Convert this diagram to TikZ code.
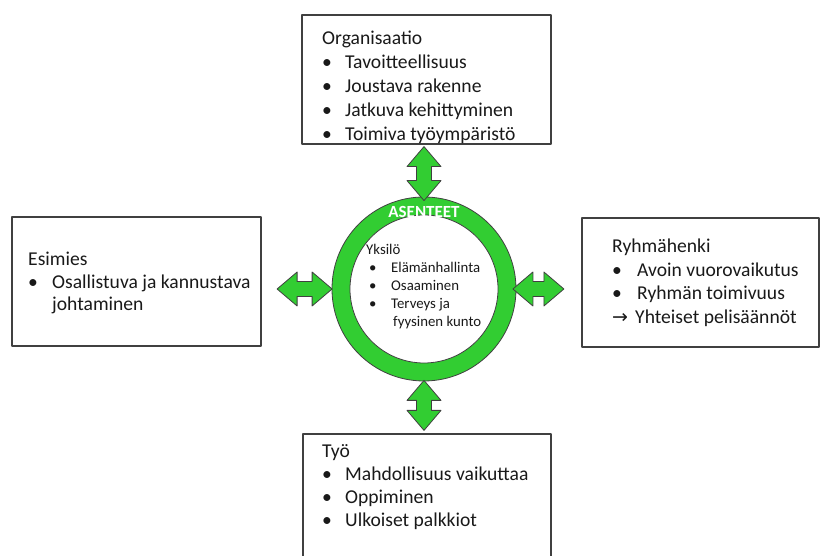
\documentclass[tikz,border=0pt]{standalone}
\usepackage{fontspec}
\setmainfont{Carlito}
\newfontfamily\symfont{DejaVu Sans}
\usetikzlibrary{calc}
\definecolor{ringgreen}{RGB}{50,205,50}
\definecolor{edgegray}{RGB}{64,64,64}
\definecolor{txtgray}{RGB}{25,25,25}
\newcommand{\bul}[1][24pt]{\makebox[#1][l]{\textbullet}}
\begin{document}
\begin{tikzpicture}[x=1pt, y=1pt, line join=round,
		box/.style={draw=edgegray, line width=1.2pt, minimum width=#1, minimum height=129pt, inner sep=0pt},
		list/.style={anchor=base west, align=left, inner sep=0pt, text=txtgray, font=\fontsize{19.6}{#1}\selectfont},
		arrowfill/.style={fill=ringgreen, draw=edgegray, line width=0.8pt},
		pics/dblarr/.style={code={
			\draw[arrowfill] (-#1/2,0) -- ++(20,17) -- ++(0,-9.5) -- (#1/2-20,7.5) -- ++(0,9.5) -- (#1/2,0)
				-- ++(-20,-17) -- ++(0,9.5) -- (-#1/2+20,-7.5) -- ++(0,-9.5) -- cycle;}}]
	\useasboundingbox (0,0) rectangle (820,556);
	\node[box=249pt] (org) at (426.5,476.5) {};
	\node[box=249pt] (esim) at (136.5,274.5) {};
	\node[box=237pt] (ryhma) at (700.5,273.5) {};
	\node[box=248pt] (tyo) at (427,57.5) {};
	\node[list=24pt] (orgtxt) at (322,415) {Organisaatio\\ \bul[23pt]Tavoitteellisuus\\ \bul[23pt]Joustava rakenne\\ \bul[23pt]Jatkuva kehittyminen\\ \bul[23pt]Toimiva työympäristö};
	\node[list=22.5pt] (esimtxt) at (28,245) {Esimies\\ \bul Osallistuva ja kannustava\\ \hspace*{24pt}johtaminen};
	\node[list=23.5pt] (ryhmatxt) at (612,232.5) {Ryhmähenki\\ \bul[25pt]Avoin vuorovaikutus\\ \bul[25pt]Ryhmän toimivuus\\ \makebox[23pt][l]{\symfont\fontsize{19}{19}\selectfont →}Yhteiset pelisäännöt};
	\node[list=23pt] (tyotxt) at (322,29) {Työ\\ \bul[23pt]Mahdollisuus vaikuttaa\\ \bul[23pt]Oppiminen\\ \bul[23pt]Ulkoiset palkkiot};
	\node[circle, draw=edgegray, line width=0.8pt, fill=ringgreen, minimum size=184pt, inner sep=0pt] (ring) at (424,267) {};
	\node[circle, draw=edgegray, line width=0.8pt, fill=white, minimum size=148pt, inner sep=0pt] (core) at (ring.center) {};
	\node[anchor=base west, align=left, inner sep=0pt, text=txtgray, font=\fontsize{14.8}{18}\selectfont] (coretxt) at (366,229)
		{Yksilö\\ \hspace*{3pt}\bul[22pt]Elämänhallinta\\ \hspace*{3pt}\bul[22pt]Osaaminen\\ \hspace*{3pt}\bul[22pt]Terveys ja\\ \hspace*{27pt}fyysinen kunto};
	\pic[rotate=90] (atop) at ($(ring.north)+(0,23)$) {dblarr=54};
	\pic[rotate=90] (abot) at ($(ring.south)+(0,-24)$) {dblarr=50};
	\pic (aleft) at ($(ring.west)+(-27,0)$) {dblarr=55};
	\pic (aright) at ($(ring.east)+(22,0)$) {dblarr=51};
	\node[anchor=base, inner sep=0pt, text=white, font=\fontsize{17}{17}\selectfont\bfseries] (asenteet) at (424,338) {ASENTEET};
\end{tikzpicture}
\end{document}
